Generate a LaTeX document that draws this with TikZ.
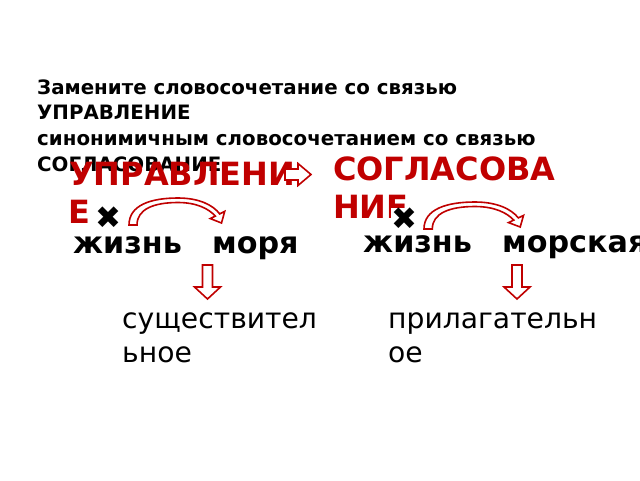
\documentclass[tikz,border=0pt]{standalone}
\usepackage{fontspec}
\setmainfont{DejaVu Sans}
\definecolor{dred}{HTML}{C00000}
\begin{document}
\begin{tikzpicture}[x=1pt,y=-1pt,
  toptext/.style={anchor=base west, inner sep=0pt, font=\bfseries\fontsize{19.8}{23}\selectfont},
  redword/.style={anchor=base west, inner sep=0pt, text=dred, font=\bfseries\fontsize{32}{38}\selectfont},
  word/.style={anchor=base west, inner sep=0pt, font=\bfseries\fontsize{30.2}{35}\selectfont},
  lbl/.style={anchor=base west, inner sep=0pt, font=\fontsize{28.2}{34}\selectfont},
  crossmark/.style={fill=white, inner sep=0pt, font=\fontsize{31}{31}\selectfont},
  hollow/.style={draw=dred, fill=white, line width=1.6pt, line join=miter},
  pics/curvarrow/.style={code={
    \draw[hollow] (0,0) .. controls (0,-20) and (22,-27) .. (49,-27)
      .. controls (70,-27) and (84,-20) .. (90.7,-11.1)
      -- (95.7,-13.6) -- (92.5,-2) -- (81.3,-6.4) -- (86.3,-8.9)
      .. controls (80,-16) and (68,-22.5) .. (49,-22.5)
      .. controls (25,-22.5) and (8,-16) .. (8,0) -- cycle;
  }}]
\useasboundingbox (0,0) rectangle (640,480);
\clip (0,0) rectangle (640,480);
\fill[white] (0,0) rectangle (640,480);

\node[toptext] (t1) at (37,94) {Замените словосочетание со связью};
\node[toptext] (t2) at (37,119) {УПРАВЛЕНИЕ};
\node[toptext] (t3) at (37,145) {синонимичным словосочетанием со связью};
\node[toptext] (t4) at (37,171) {СОГЛАСОВАНИЕ};

\node[redword] (u1) at (69,185) {УПРАВЛЕНИ};
\node[redword] (u2) at (68,223) {Е};
\node[redword] (s1) at (333,180) {СОГЛАСОВА};
\node[redword] (s2) at (333,218) {НИЕ};

\node[crossmark] (x1) at (108.5,218) {✖};
\node[crossmark] (x2) at (404,218.5) {✖};

\node[word] (w1) at (73,253) {жизнь};
\node[word] (w2) at (212,253) {моря};
\node[word] (w3) at (363,252) {жизнь};
\node[word] (w4) at (502,252) {морская};

\node[lbl] (l1) at (122,328) {существител};
\node[lbl] (l2) at (122,362) {ьное};
\node[lbl] (l3) at (388,328) {прилагательн};
\node[lbl] (l4) at (388,362) {ое};

% small right arrow
\draw[hollow] (285,169) -- (298,169) -- (298,163.5) -- (311,174.5) -- (298,185.5) -- (298,180) -- (285,180) -- cycle;

% curved arrows
\pic at (129,225) {curvarrow};
\pic[xscale=1.04] at (424,229) {curvarrow};

% down arrows
\draw[hollow] (202.5,265) -- (212.5,265) -- (212.5,287) -- (220.5,287) -- (207.5,299) -- (194.5,287) -- (202.5,287) -- cycle;
\draw[hollow] (512,265) -- (522,265) -- (522,287) -- (530,287) -- (517,299) -- (504,287) -- (512,287) -- cycle;
\end{tikzpicture}
\end{document}
